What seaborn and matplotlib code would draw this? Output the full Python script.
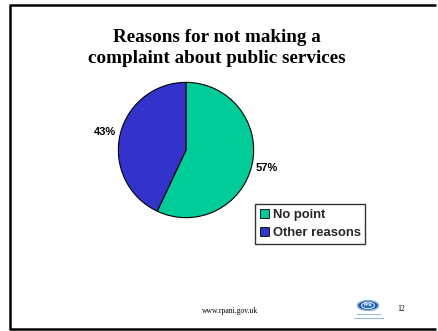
import matplotlib
matplotlib.use("Agg")
import matplotlib.pyplot as plt
import seaborn as sns
from matplotlib.lines import Line2D
from matplotlib.patches import Patch, Ellipse

# Survey shares
reasons = ["No point", "Other reasons"]
shares = [57, 43]
slice_colors = ["#00CC99", "#3333CC"]

title_lines = ["Reasons for not making a", "complaint about public services"]
footer_url = "www.rpani.gov.uk"
page_number = "12"

sns.set_style("white")
palette = sns.color_palette(slice_colors)

W, H = 438, 331
fig = plt.figure(figsize=(W / 100, H / 100), dpi=100)
fig.patch.set_facecolor("white")


def fx(px):
    return px / W


def fy(py):
    return 1 - py / H


# Slide frame (left, top, bottom edges)
frame_kw = dict(color="black", linewidth=1.8, solid_capstyle="butt")
fig.add_artist(Line2D([fx(10), fx(10)], [fy(4.5), fy(329)], transform=fig.transFigure, **frame_kw))
fig.add_artist(Line2D([fx(9), fx(436)], [fy(5), fy(5)], transform=fig.transFigure, **frame_kw))
fig.add_artist(Line2D([fx(9), fx(436)], [fy(329), fy(329)], transform=fig.transFigure, **frame_kw))

# Title
title_kw = dict(ha="center", va="baseline", fontsize=13.8, fontweight="bold",
                family="Liberation Serif", color="black")
fig.text(fx(217), fy(42), title_lines[0], **title_kw)
fig.text(fx(217), fy(63), title_lines[1], **title_kw)

# Pie
cx, cy, r = 186, 150, 69
ax = fig.add_axes([fx(cx - r), fy(cy + r), (2 * r) / W, (2 * r) / H])
wedges, _, autotexts = ax.pie(
    shares,
    colors=palette,
    startangle=90,
    counterclock=False,
    autopct="%.0f%%",
    pctdistance=1.23,
    wedgeprops=dict(edgecolor="black", linewidth=0.8),
    textprops=dict(fontsize=8, fontweight="bold", family="Liberation Sans", color="black"),
)
ax.set_xlim(-1.02, 1.02)
ax.set_ylim(-1.02, 1.02)
ax.set_aspect("equal")
ax.axis("off")

# Legend
handles = [Patch(facecolor=c, edgecolor="black", linewidth=0.6) for c in palette]
leg = fig.legend(
    handles, reasons,
    loc="upper left",
    bbox_to_anchor=(fx(255), fy(204)),
    bbox_transform=fig.transFigure,
    frameon=True, fancybox=False,
    handlelength=0.75, handleheight=0.75, handletextpad=0.25,
    borderpad=0.35, labelspacing=0.45, borderaxespad=0,
    prop=dict(family="Liberation Sans", weight="bold", size=9.4),
)
leg.get_frame().set_edgecolor("black")
leg.get_frame().set_linewidth(1.0)

# Footer
fig.text(fx(230), fy(311), footer_url, ha="center", va="center",
         fontsize=5.5, family="Liberation Serif", color="black")
fig.text(fx(401), fy(309), page_number, ha="center", va="center",
         fontsize=5.5, family="Liberation Serif", color="black")

# Logo
fig.add_artist(Ellipse((fx(368), fy(305.5)), 21 / W, 10 / H, transform=fig.transFigure,
                       facecolor="#1f5aa8", edgecolor="#8fb3dd", linewidth=1.0))
fig.add_artist(Ellipse((fx(368), fy(305.5)), 13 / W, 6.5 / H, transform=fig.transFigure,
                       facecolor="#2c6fc0", edgecolor="white", linewidth=0.6))
fig.text(fx(368), fy(305.5), "RPA", ha="center", va="center", fontsize=3,
         fontweight="bold", color="white", family="Liberation Sans")
for yy, x0, x1 in [(314, 357, 380), (317.5, 354, 383)]:
    fig.add_artist(Line2D([fx(x0), fx(x1)], [fy(yy), fy(yy)], transform=fig.transFigure,
                          color="#9db8dc", linewidth=0.8))

fig.savefig("out.png", dpi=100, facecolor="white")
